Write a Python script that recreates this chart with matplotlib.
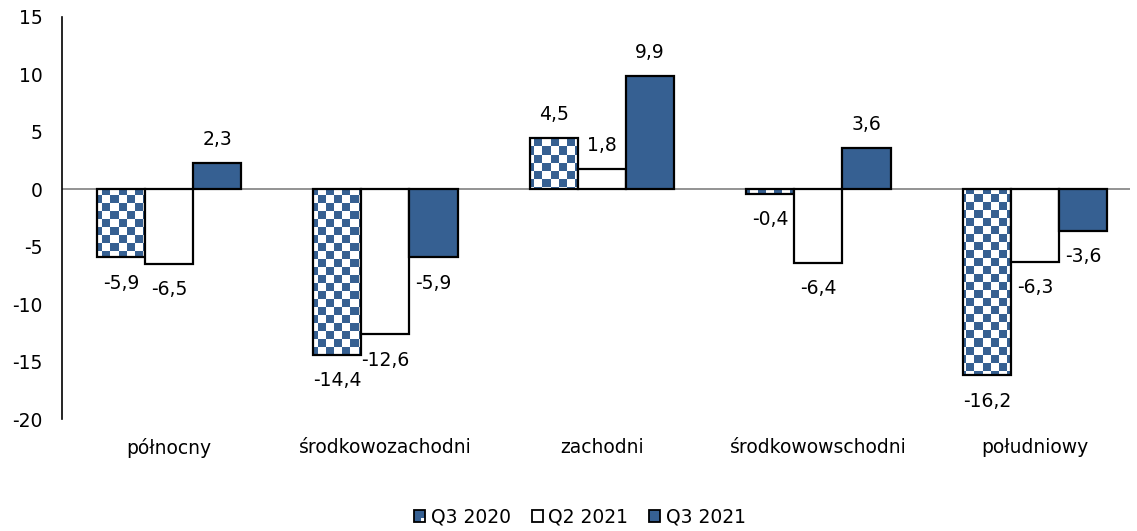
import numpy as np
import matplotlib
matplotlib.use("Agg")
import matplotlib.pyplot as plt
from matplotlib.colors import ListedColormap
from matplotlib.patches import Patch, Rectangle
from matplotlib.legend_handler import HandlerBase

categories = ["północny", "środkowozachodni", "zachodni", "środkowowschodni", "południowy"]
series_names = ["Q3 2020", "Q2 2021", "Q3 2021"]
q3_2020 = [-5.9, -14.4, 4.5, -0.4, -16.2]
q2_2021 = [-6.5, -12.6, 1.8, -6.4, -6.3]
q3_2021 = [2.3, -5.9, 9.9, 3.6, -3.6]
yticks = [-20, -15, -10, -5, 0, 5, 10, 15]

BLUE = "#366092"
FS = 13.5
W, H = 1137, 531
fig = plt.figure(figsize=(W / 100, H / 100), dpi=100)
ax_l, ax_r, ax_t, ax_b = 62, 1130, 17, 419
ax = fig.add_axes([ax_l / W, (H - ax_b) / H, (ax_r - ax_l) / W, (ax_b - ax_t) / H])

x = np.arange(len(categories))
bw = 0.222
xmin = -0.494
xmax = xmin + (ax_r - ax_l) / 216.5
ax.set_xlim(xmin, xmax)
ax.set_ylim(-20, 15)

# checkerboard image in pixel-space squares of ~8 px
sq = 8.0
nx = int(np.ceil((ax_r - ax_l) / sq))
ny = int(np.ceil((ax_b - ax_t) / sq))
checker = (np.add.outer(np.arange(ny), np.arange(nx)) % 2).astype(float)
cmap = ListedColormap(["white", BLUE])
ext = [xmin, xmin + nx * sq * (xmax - xmin) / (ax_r - ax_l),
       -20, -20 + ny * sq * 35 / (ax_b - ax_t)]

series = [q3_2020, q2_2021, q3_2021]
offsets = [-bw, 0, bw]
for i, (vals, off) in enumerate(zip(series, offsets)):
    if i == 0:
        bars = ax.bar(x + off, vals, bw, facecolor="white", edgecolor="none", zorder=2)
        for b in bars:
            im = ax.imshow(checker[::-1], extent=ext, origin="lower", cmap=cmap,
                           aspect="auto", interpolation="nearest", zorder=2.5)
            im.set_clip_path(b)
        ax.bar(x + off, vals, bw, facecolor="none", edgecolor="black", linewidth=1.6, zorder=3)
    else:
        fc = "white" if i == 1 else BLUE
        ax.bar(x + off, vals, bw, facecolor=fc, edgecolor="black", linewidth=1.6, zorder=3)
    for xi, v in zip(x + off, vals):
        dy = 23 if v >= 0 else -26
        ax.annotate(f"{v:.1f}".replace(".", ","), (xi, v), xytext=(0, dy * 0.72),
                    textcoords="offset points", ha="center", va="center", fontsize=FS)

ax.set_xlim(xmin, xmax)
ax.set_ylim(-20, 15)
ax.axhline(0, color="#808080", linewidth=1.2, zorder=1)
for s in ["top", "right", "bottom"]:
    ax.spines[s].set_visible(False)
ax.spines["left"].set_linewidth(1.2)
ax.set_yticks(yticks)
ax.set_yticklabels([str(t) for t in yticks], fontsize=FS)
ax.tick_params(axis="y", length=0, pad=14)
ax.set_xticks(x)
ax.set_xticklabels(categories, fontsize=FS)
ax.tick_params(axis="x", length=0, pad=14)


class CheckerHandler(HandlerBase):
    def create_artists(self, legend, orig_handle, xdescent, ydescent, width, height,
                       fontsize, trans):
        s = min(width, height)
        x0 = -xdescent + (width - s) / 2
        y0 = -ydescent + (height - s) / 2
        base = Rectangle((x0, y0), s, s, facecolor=BLUE, edgecolor="none", transform=trans)
        corner = Rectangle((x0 + s * 0.6, y0), s * 0.4, s * 0.35, facecolor="white",
                           edgecolor="none", transform=trans)
        edge = Rectangle((x0, y0), s, s, facecolor="none", edgecolor="black",
                         linewidth=1.3, transform=trans)
        return [base, corner, edge]


class SquareHandler(HandlerBase):
    def create_artists(self, legend, orig_handle, xdescent, ydescent, width, height,
                       fontsize, trans):
        s = min(width, height)
        x0 = -xdescent + (width - s) / 2
        y0 = -ydescent + (height - s) / 2
        r = Rectangle((x0, y0), s, s, facecolor=orig_handle.get_facecolor(),
                      edgecolor="black", linewidth=1.3, transform=trans)
        return [r]


h0 = Patch(facecolor=BLUE, edgecolor="black")
h1 = Patch(facecolor="white", edgecolor="black")
h2 = Patch(facecolor=BLUE, edgecolor="black")
fig.legend([h0, h1, h2], series_names, loc="center", bbox_to_anchor=(580 / W, 1 - 517 / H),
           ncol=3, frameon=False, fontsize=FS, handlelength=0.6, handleheight=0.6,
           handletextpad=0.3, columnspacing=1.1,
           handler_map={h0: CheckerHandler(), h1: SquareHandler(), h2: SquareHandler()})

fig.savefig("out.png", dpi=100)
